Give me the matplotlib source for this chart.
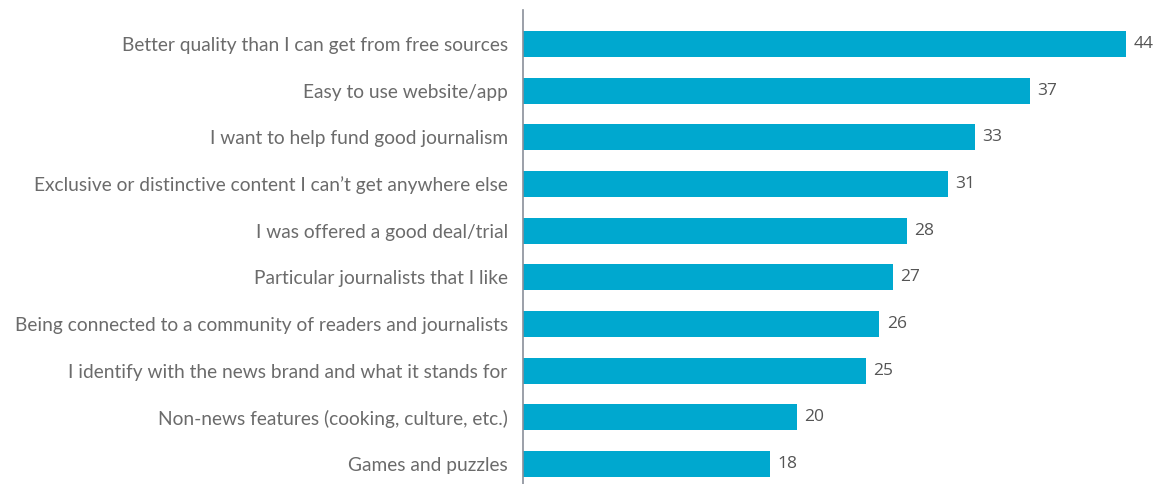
import matplotlib
matplotlib.use("Agg")
import matplotlib.pyplot as plt

categories = [
    "Better quality than I can get from free sources",
    "Easy to use website/app",
    "I want to help fund good journalism",
    "Exclusive or distinctive content I can\u2019t get anywhere else",
    "I was offered a good deal/trial",
    "Particular journalists that I like",
    "Being connected to a community of readers and journalists",
    "I identify with the news brand and what it stands for",
    "Non-news features (cooking, culture, etc.)",
    "Games and puzzles",
]
values = [44, 37, 33, 31, 28, 27, 26, 25, 20, 18]

bar_color = "#00a8cf"
text_color = "#6b6b6b"

fig = plt.figure(figsize=(11.62, 4.84), dpi=100)
ax = fig.add_axes([523 / 1162, 0.0, 1 - 523 / 1162, 474 / 484])

pos = list(range(len(categories)))
ax.barh(pos, values, height=0.56, color=bar_color, zorder=2)

for p, v in zip(pos, values):
    ax.text(v + 0.55, p, str(v), va="center", ha="left", fontsize=12.5,
            color="#555555", family="Open Sans")

ax.set_yticks(pos)
ax.set_yticklabels(categories, fontsize=13.8, color=text_color, family="Lato")
ax.tick_params(axis="y", length=0, pad=11)
ax.set_xticks([])

ax.set_xlim(0, (1162 - 523) / 13.7)
ax.set_ylim(9.43, -0.73)

for s in ["top", "right", "bottom"]:
    ax.spines[s].set_visible(False)
ax.spines["left"].set_color("#8a8f99")
ax.spines["left"].set_linewidth(1.2)

fig.savefig("out.png", dpi=100)
